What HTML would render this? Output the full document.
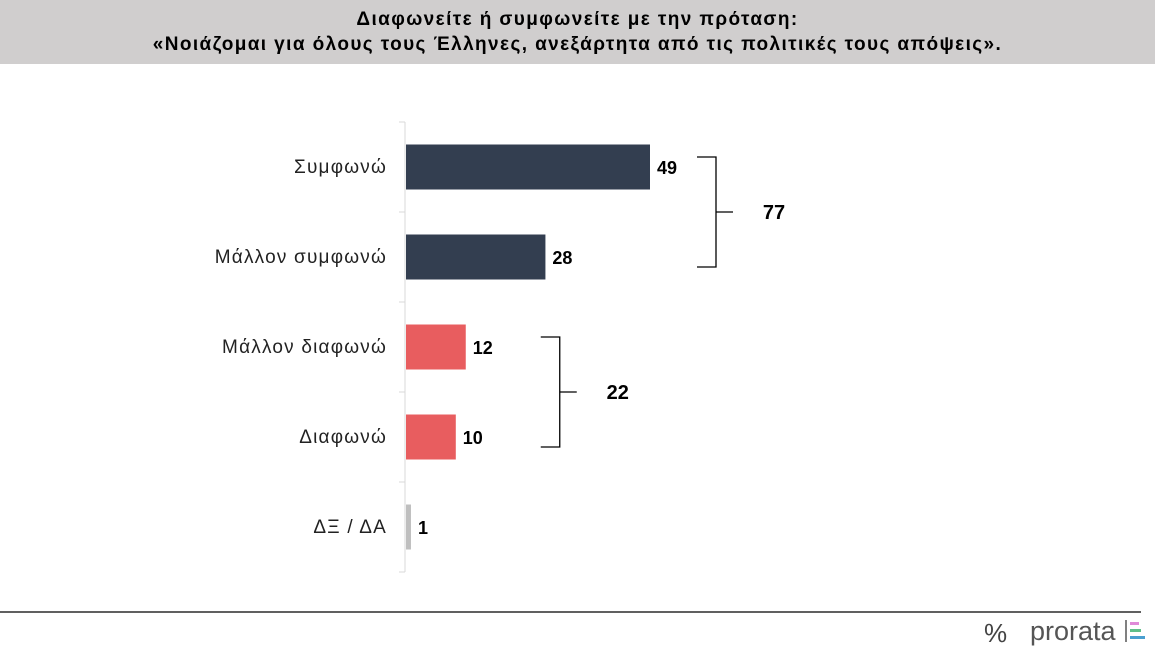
<!DOCTYPE html>
<html><head><meta charset="utf-8"><style>
body{margin:0;width:1155px;height:652px;background:#fff;overflow:hidden;font-family:"Liberation Sans",sans-serif}
#hdr{position:absolute;left:0;top:0;width:1155px;height:64px;background:#d0cece;text-align:center;font-weight:bold;font-size:19px;letter-spacing:1.4px;line-height:25px;padding-top:7px;box-sizing:border-box;color:#000}
</style></head><body>
<div id="hdr">Διαφωνείτε ή συμφωνείτε με την πρόταση:<br>«Νοιάζομαι για όλους τους Έλληνες, ανεξάρτητα από τις πολιτικές τους απόψεις».</div>
<svg id="c" width="1155" height="652" style="position:absolute;left:0;top:0">
<line x1="0" y1="612" x2="1141" y2="612" stroke="#000" stroke-width="1.2"/>
<text x="984" y="642" font-size="26" fill="#444">%</text>
<text x="1030" y="640" font-size="27" fill="#555">prorata</text>
<line x1="1126" y1="620" x2="1126" y2="642" stroke="#555" stroke-width="1.5"/>
<rect x="1130" y="622" width="9" height="3" fill="#e08ad8"/>
<rect x="1130" y="629" width="11" height="3" fill="#5fbf8a"/>
<rect x="1130" y="636" width="15" height="3" fill="#4a9fd0"/>
</svg>
<script>
const categories=["Συμφωνώ","Μάλλον συμφωνώ","Μάλλον διαφωνώ","Διαφωνώ","ΔΞ / ΔΑ"];
const values=[49,28,12,10,1];
const colors=["#333e50","#333e50","#e85d5f","#e85d5f","#bfbfbf"];
const groupTotals=[77,22];
const groupRanges=[[0,1],[2,3]];
const bracketGap=[66,94];
const NS="http://www.w3.org/2000/svg",svg=document.getElementById('c');
const x0=406,pxPer=244/49,top0=122,band=90,barH=45;
const xs=v=>x0+v*pxPer, yc=i=>top0+band*i+band/2;
function mk(t,a){const e=document.createElementNS(NS,t);for(const k in a)e.setAttribute(k,a[k]);svg.appendChild(e);return e;}
const ax=mk('line',{x1:405,y1:top0,x2:405,y2:top0+band*categories.length,stroke:'#d9d9d9'});


for(let i=0;i<=categories.length;i++){const t=mk('line',{x1:399,x2:405,y1:top0+band*i,y2:top0+band*i,stroke:'#d9d9d9'});

}
categories.forEach((c,i)=>{
 const l=mk('text',{x:387,y:yc(i)+6,'text-anchor':'end','font-size':'19','letter-spacing':'1.2',fill:'#222'});l.textContent=c;
 
 
 const w=Math.max(xs(values[i])-x0,4);
 const r=mk('rect',{x:x0,y:yc(i)-barH/2,width:w,height:barH,fill:colors[i]});
 
 
 const v=mk('text',{x:x0+w+7,y:yc(i)+7,'font-size':'18','font-weight':'bold',fill:'#000'});v.textContent=values[i];
 
 
});
groupRanges.forEach((g,k)=>{
 let mx=0;for(let i=g[0];i<=g[1];i++)mx=Math.max(mx,xs(values[i]));
 const bx=mx+bracketGap[k],y1=yc(g[0])-10,y2=yc(g[1])+10,ym=(y1+y2)/2;
 const p=mk('path',{d:`M${bx-19} ${y1}H${bx}V${y2}H${bx-19}M${bx} ${ym}H${bx+17}`,fill:'none',stroke:'#000','stroke-width':'1.3'});
 
 
 const t=mk('text',{x:bx+58,y:ym+7,'text-anchor':'middle','font-size':'20','font-weight':'bold',fill:'#000'});t.textContent=groupTotals[k];
 
 
});
</script>
</body></html>
